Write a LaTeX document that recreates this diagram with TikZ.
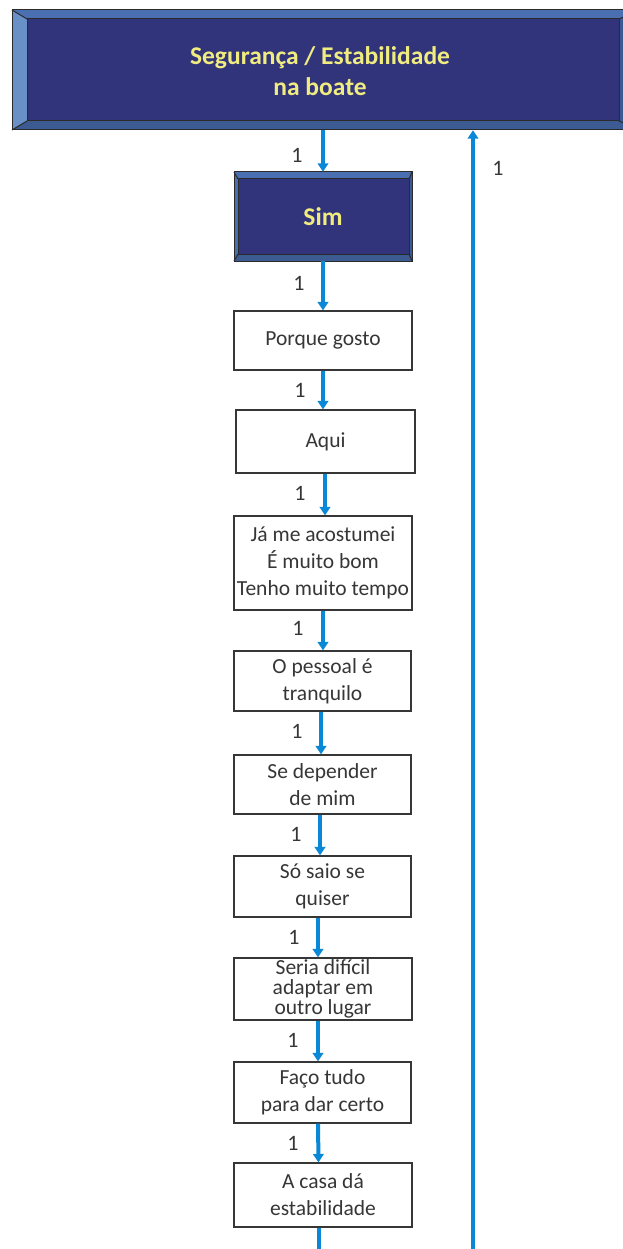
\documentclass[tikz,border=0pt]{standalone}
\usepackage{fontspec}
\setmainfont{Carlito}
\usetikzlibrary{arrows.meta}
\definecolor{navy}{HTML}{31347A}
\definecolor{bevlight}{HTML}{6A90C8}
\definecolor{bevmid}{HTML}{4A70B2}
\definecolor{bevdark}{HTML}{3B5B92}
\definecolor{titleyellow}{HTML}{F0EC80}
\definecolor{flowblue}{HTML}{0A88D8}
\definecolor{ink}{HTML}{363636}
\tikzset{
  answer/.style={draw=ink, line width=1.1pt, fill=white, inner sep=0pt,
    align=center, text=ink, font=\fontsize{21.5}{27}\selectfont},
  headbox/.style={fill=navy, inner sep=0pt, align=center, text=titleyellow,
    font=\fontsize{25.5}{31}\selectfont\bfseries},
  flow/.style={draw=flowblue, line width=4pt, -{Triangle[width=10.5pt,length=8.5pt]}},
  count/.style={text=ink, font=\fontsize{22}{26}\selectfont, inner sep=0pt},
  edge/.style={draw=ink!80!black, line width=1pt}
}
\begin{document}
\begin{tikzpicture}[x=1pt,y=-1pt]
\useasboundingbox (0,0) rectangle (622,1249);

% title box with bevelled frame
\node[headbox, minimum width=628, minimum height=120] (top) at (326,70) {};
\fill[bevlight] (12,10) -- (27,19) -- (27,121) -- (12,130) -- cycle;
\fill[bevmid] (12,10) -- (640,10) -- (619,19) -- (27,19) -- cycle;
\fill[bevdark] (12,130) -- (27,121) -- (619,121) -- (640,130) -- cycle;
\fill[bevdark] (619,19) -- (640,10) -- (640,130) -- (619,121) -- cycle;
\draw[edge] (27,19) rectangle (619,121);
\draw[edge] (12,10) rectangle (640,130);
\draw[edge] (12,10) -- (27,19) (12,130) -- (27,121) (619,19) -- (640,10) (619,121) -- (640,130);
\node[headbox, fill=none] (title) at (320,71) {Segurança / Estabilidade\\na boate};

% "Sim" box with bevelled frame
\node[headbox, minimum width=178, minimum height=89] (sim) at (323,216.5) {};
\fill[bevmid] (234,172) -- (412,172) -- (409,179) -- (238,179) -- cycle;
\fill[bevmid] (234,172) -- (238,179) -- (238,254) -- (234,261) -- cycle;
\fill[bevdark] (234,261) -- (238,254) -- (409,254) -- (412,261) -- cycle;
\fill[bevdark] (409,179) -- (412,172) -- (412,261) -- (409,254) -- cycle;
\draw[edge] (238,179) rectangle (409,254);
\draw[edge] (234,172) rectangle (412,261);
\draw[edge] (234,172) -- (238,179) (412,172) -- (409,179) (234,261) -- (238,254) (412,261) -- (409,254);
\node[headbox, fill=none] (simtext) at (323,217) {Sim};

% answer boxes
\node[answer, minimum width=178, minimum height=59] (porque) at (323,340.5) {Porque gosto};
\node[answer, minimum width=179, minimum height=63] (aqui) at (325.5,441.5) {Aqui};
\node[answer, minimum width=178, minimum height=94] (ja) at (323,563) {Já me acostumei\\É muito bom\\Tenho muito tempo};
\node[answer, minimum width=177, minimum height=60] (pessoal) at (322.5,681) {O pessoal é\\tranquilo};
\node[answer, minimum width=177, minimum height=59] (depender) at (322.5,784.5) {Se depender\\de mim};
\node[answer, minimum width=177, minimum height=61] (saio) at (322.5,886.5) {Só saio se\\quiser};
\node[answer, minimum width=178, minimum height=62, font=\fontsize{21.5}{20}\selectfont] (seria) at (323,989) {Seria difícil\\adaptar em\\outro lugar};
\node[answer, minimum width=177, minimum height=61] (faco) at (322.5,1092.5) {Faço tudo\\para dar certo};
\node[answer, minimum width=178, minimum height=64] (casa) at (323,1195) {A casa dá\\estabilidade};

% downward chain
\draw[flow] (top.south -| sim.north) -- (sim.north);
\draw[flow] (sim.south) -- (porque.north);
\draw[flow] (porque.south) -- (porque.south |- aqui.north);
\draw[flow] ([xshift=2pt]ja.north |- aqui.south) -- ([xshift=2pt]ja.north);
\draw[flow] (ja.south) -- (ja.south |- pessoal.north);
\draw[flow] ([xshift=-1.5pt]pessoal.south) -- ([xshift=-1.5pt]depender.north);
\draw[flow] ([xshift=-2.5pt]depender.south) -- ([xshift=-2.5pt]saio.north);
\draw[flow] ([xshift=-4.5pt]saio.south) -- ([xshift=-5pt]seria.north);
\draw[flow] ([xshift=-5pt]seria.south) -- ([xshift=-4.5pt]faco.north);
\draw[flow] ([xshift=-4.5pt]faco.south) -- ([xshift=-4.5pt]casa.north);
\coordinate (tail) at (318.5,1249);
\draw[flow, -] ([xshift=-4.5pt]casa.south) -- (tail);

% return line back to the title box
\coordinate (back) at (473,1249);
\draw[flow] (back) -- (back |- top.south);

% counts
\node[count] (c0) at (297,155) {1};
\node[count] (c1) at (299,283) {1};
\node[count] (c2) at (300,390) {1};
\node[count] (c3) at (300,493) {1};
\node[count] (c4) at (298,628) {1};
\node[count] (c5) at (297,731) {1};
\node[count] (c6) at (296,834) {1};
\node[count] (c7) at (294,937) {1};
\node[count] (c8) at (293,1040) {1};
\node[count] (c9) at (293,1143) {1};
\node[count] (cb) at (498,168) {1};
\end{tikzpicture}
\end{document}
